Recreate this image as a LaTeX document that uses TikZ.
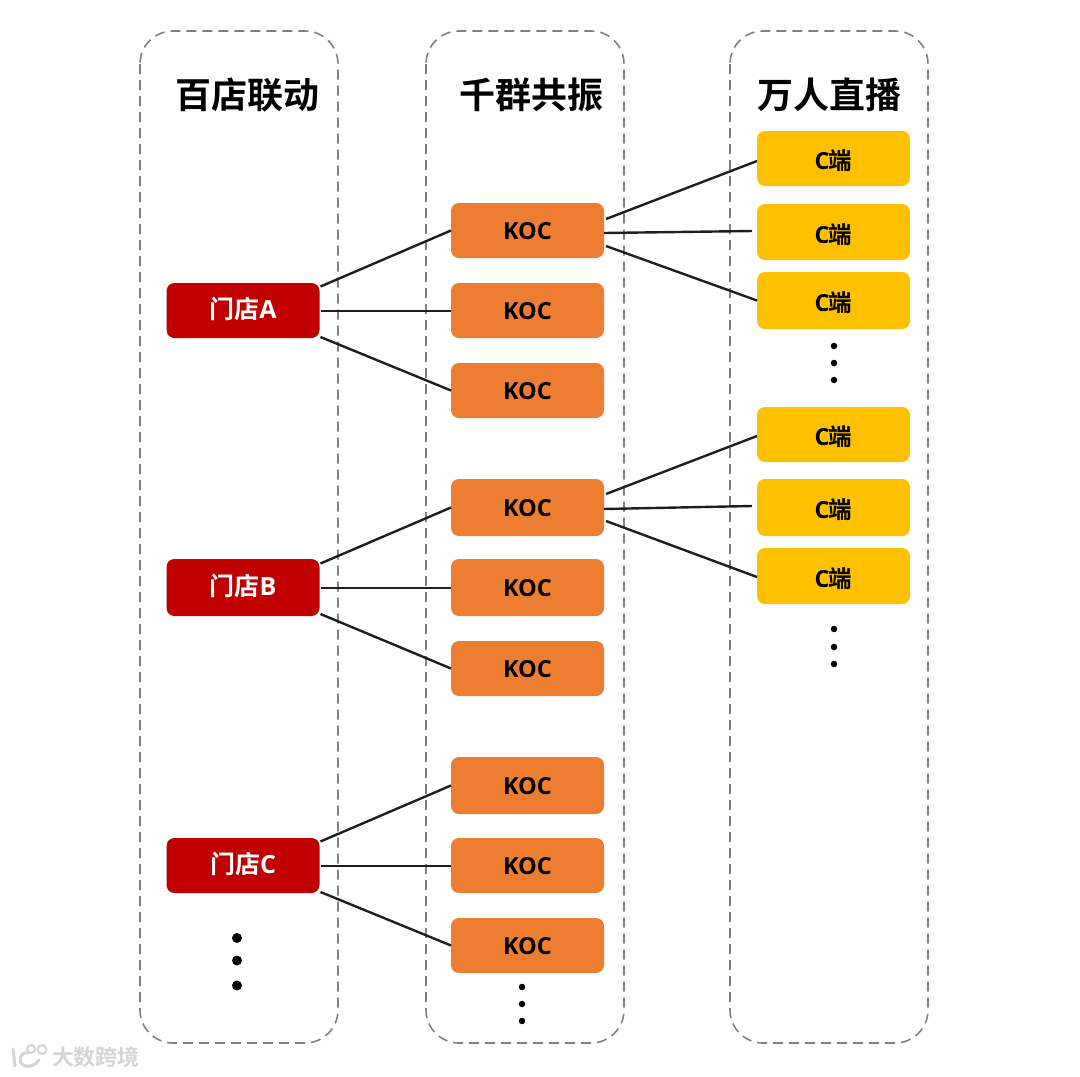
\documentclass[tikz,border=0pt]{standalone}
\usepackage{fontspec}
\setmainfont{Open Sans}[BoldFont={Open Sans Bold}]
\newfontfamily\cjkb{Noto Sans CJK SC Bold}
\newfontfamily\lat{Open Sans Bold}
\newcommand{\titlefs}{\fontsize{36}{36}\selectfont\cjkb}
\newcommand{\boxfs}{\fontsize{23.5}{24}\selectfont}
\newcommand{\Dian}[1]{\raisebox{1pt}[\height][\dimexpr\depth+2pt]{\fontsize{25}{25}\selectfont\cjkb 门店{\lat #1}}}
\newcommand{\Duan}{\raisebox{-1.25pt}[\dimexpr\height+2.5pt][\depth]{\fontsize{23.5}{23.5}\selectfont\lat C\hspace{-0.5pt}{\cjkb 端}}}
\newcommand{\Koc}{\raisebox{-0.4pt}[\dimexpr\height+0.8pt][\depth]{KOC}}
\definecolor{cred}{HTML}{C00000}
\definecolor{corange}{HTML}{ED7D31}
\definecolor{cyellow}{HTML}{FFC000}
\definecolor{cdash}{HTML}{808080}
\definecolor{cmark}{HTML}{D4D4D4}
\tikzset{
  panel/.style={draw=cdash,line width=1.6pt,dash pattern=on 10pt off 6pt,rounded corners=33pt},
  basebox/.style={rounded corners=8pt,minimum width=153pt,inner sep=0pt,outer sep=0pt,font=\boxfs\lat},
  storebox/.style={basebox,fill=cred,text=white,minimum height=55pt},
  kocbox/.style={basebox,fill=corange,text=black,minimum height=55pt},
  cbox/.style={basebox,fill=cyellow,text=black,minimum height=55pt},
  link/.style={draw=black!88,line width=2.4pt},
  titletext/.style={font=\titlefs,inner sep=0pt,text=black},
  smalldot/.style={circle,fill=black,inner sep=0pt,minimum size=6.5pt},
  bigdot/.style={circle,fill=black,inner sep=0pt,minimum size=10pt},
  logoline/.style={draw=cmark,line width=3pt,line cap=round},
}
\begin{document}
\begin{tikzpicture}[x=1pt,y=-1pt]
\useasboundingbox (0,0) rectangle (1080,1077);
% panels
\draw[panel] (140,31) rectangle (338,1043);
\draw[panel] (426,31) rectangle (624,1043);
\draw[panel] (730,31) rectangle (928,1043);
% titles
\node[titletext] (t1) at (247,95) {百店联动};
\node[titletext] (t2) at (531,95) {千群共振};
\node[titletext] (t3) at (829,95) {万人直播};
% stores
\node[storebox] (sa) at (243,310.5) {\Dian{A}};
\node[storebox,minimum height=57pt] (sb) at (243,587.5) {\Dian{B}};
\node[storebox] (sc) at (243,865.5) {\Dian{C}};
% KOC
\node[kocbox] (k1) at (527.5,230.5) {\Koc};
\node[kocbox] (k2) at (527.5,310.5) {\Koc};
\node[kocbox] (k3) at (527.5,390.5) {\Koc};
\node[kocbox,minimum height=57pt] (k4) at (527.5,507.5) {\Koc};
\node[kocbox,minimum height=57pt] (k5) at (527.5,587.5) {\Koc};
\node[kocbox] (k6) at (527.5,668.5) {\Koc};
\node[kocbox,minimum height=57pt] (k7) at (527.5,785.5) {\Koc};
\node[kocbox] (k8) at (527.5,865.5) {\Koc};
\node[kocbox] (k9) at (527.5,945.5) {\Koc};
% C
\node[cbox] (c1) at (833.5,158.5) {\Duan};
\node[cbox,minimum height=56pt] (c2) at (833.5,232) {\Duan};
\node[cbox,minimum height=57pt] (c3) at (833.5,300.5) {\Duan};
\node[cbox] (c4) at (833.5,434.5) {\Duan};
\node[cbox,minimum height=57pt] (c5) at (833.5,507.5) {\Duan};
\node[cbox,minimum height=56pt] (c6) at (833.5,576) {\Duan};
% links stores-KOC
\foreach \s/\a/\b/\c in {sa/k1/k2/k3,sb/k4/k5/k6,sc/k7/k8/k9}{
  \draw[link] ([shift={(1,-24)}]\s.east) -- (\a.west);
  \draw[link] ([shift={(1,0.5)}]\s.east) -- ([shift={(0,0.5)}]\b.west);
  \draw[link] ([shift={(1,26.5)}]\s.east) -- (\c.west);
}
% links KOC-C
\draw[link] ([shift={(2,-11.5)}]k1.east) -- ([shift={(0,2.5)}]c1.west);
\draw[link] ([shift={(0,2.5)}]k1.east) -- ([shift={(-5,-1)}]c2.west);
\draw[link] ([shift={(2,15.5)}]k1.east) -- (c3.west);
\draw[link] ([shift={(2,-13.5)}]k4.east) -- ([shift={(0,1.5)}]c4.west);
\draw[link] ([shift={(0,1.5)}]k4.east) -- ([shift={(-5,-1.5)}]c5.west);
\draw[link] ([shift={(2,13.5)}]k4.east) -- ([shift={(0,1)}]c6.west);
% dots
\foreach \n/\x/\y in {a1/834/346,a2/834/363,a3/834/380,b1/834/629,b2/834/647,b3/834/664,d1/522/987,d2/522/1004,d3/522/1021}
  \node[smalldot] (dot\n) at (\x,\y) {};
\foreach \n/\y in {1/938,2/960.5,3/985.5}
  \node[bigdot] (big\n) at (237,\y) {};
% watermark
\draw[logoline] (13,1049) -- (15,1066);
\draw[logoline] (29,1053) .. controls (19,1051) and (18,1062) .. (23,1065) .. controls (28,1068) and (35,1066) .. (39,1060);
\draw[cmark,line width=2pt] (31,1049) circle (4pt) (42,1049.5) circle (4.5pt);
\node[inner sep=0pt,text=cmark,font=\fontsize{22}{22}\selectfont\cjkb] (wm) at (96,1057.5) {大数跨境};
\end{tikzpicture}
\end{document}
